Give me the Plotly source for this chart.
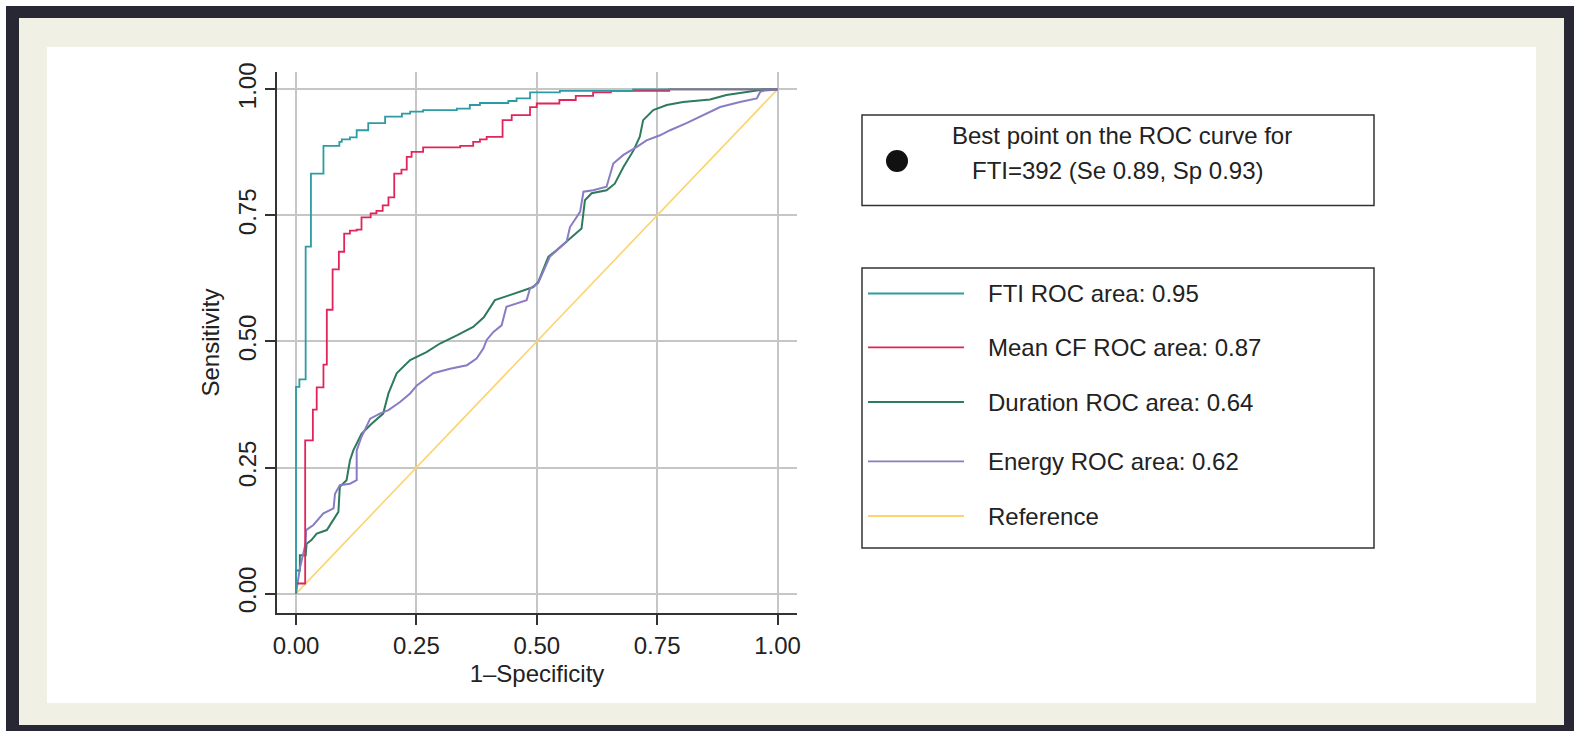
import plotly.graph_objects as go

# ---------------- data ----------------
fti_x = [0, 0, 0.007, 0.02, 0.031, 0.057, 0.09, 0.095, 0.112, 0.126, 0.15, 0.185, 0.22, 0.237,
         0.264, 0.334, 0.361, 0.382, 0.441, 0.458, 0.486, 0.548, 0.70, 1.0]
fti_y = [0, 0.41, 0.425, 0.688, 0.833, 0.888, 0.896, 0.901, 0.905, 0.919, 0.933, 0.946, 0.952, 0.956,
         0.959, 0.962, 0.969, 0.973, 0.977, 0.982, 0.994, 0.997, 1.0, 1.0]

cf_x = [0, 0, 0.019, 0.035, 0.043, 0.057, 0.064, 0.076, 0.089, 0.1, 0.112, 0.126, 0.136, 0.155, 0.167,
        0.18, 0.192, 0.204, 0.219, 0.23, 0.24, 0.264, 0.341, 0.368, 0.382, 0.396, 0.429, 0.448, 0.486,
        0.5, 0.547, 0.581, 0.617, 0.654, 0.775, 1.0]
cf_y = [0, 0.02, 0.304, 0.365, 0.409, 0.454, 0.563, 0.643, 0.678, 0.714, 0.72, 0.722, 0.746, 0.754, 0.759,
        0.77, 0.786, 0.833, 0.841, 0.866, 0.876, 0.885, 0.888, 0.896, 0.901, 0.906, 0.939, 0.949, 0.965,
        0.972, 0.979, 0.987, 0.994, 0.997, 1.0, 1.0]

dur_x = [0, 0, 0.008, 0.008, 0.02, 0.022, 0.032, 0.043, 0.064, 0.074, 0.088, 0.091, 0.105, 0.112, 0.119,
         0.136, 0.157, 0.181, 0.192, 0.209, 0.237, 0.271, 0.299, 0.334, 0.368, 0.39, 0.413, 0.444, 0.493,
         0.503, 0.524, 0.541, 0.566, 0.593, 0.6, 0.614, 0.645, 0.662, 0.68, 0.701, 0.714, 0.721, 0.742,
         0.77, 0.804, 0.86, 0.894, 0.936, 0.971, 1.0]
dur_y = [0, 0.046, 0.046, 0.076, 0.076, 0.099, 0.106, 0.119, 0.126, 0.142, 0.162, 0.212, 0.225, 0.264, 0.284,
         0.317, 0.337, 0.357, 0.397, 0.437, 0.463, 0.479, 0.496, 0.512, 0.529, 0.548, 0.582, 0.592, 0.608,
         0.618, 0.668, 0.681, 0.701, 0.724, 0.78, 0.794, 0.8, 0.813, 0.846, 0.879, 0.906, 0.939, 0.959,
         0.969, 0.975, 0.98, 0.989, 0.995, 1.0, 1.0]

en_x = [0, 0.008, 0.02, 0.021, 0.036, 0.057, 0.078, 0.081, 0.091, 0.112, 0.126, 0.126, 0.136, 0.154, 0.174,
        0.192, 0.216, 0.237, 0.251, 0.285, 0.32, 0.355, 0.375, 0.389, 0.396, 0.41, 0.427, 0.437, 0.479,
        0.486, 0.503, 0.527, 0.562, 0.569, 0.59, 0.597, 0.617, 0.645, 0.659, 0.68, 0.708, 0.728, 0.756,
        0.777, 0.811, 0.853, 0.881, 0.922, 0.957, 0.964, 0.974, 1.0]
en_y = [0, 0.05, 0.1, 0.126, 0.136, 0.159, 0.169, 0.198, 0.215, 0.218, 0.225, 0.284, 0.311, 0.347, 0.357,
        0.364, 0.38, 0.397, 0.413, 0.437, 0.446, 0.453, 0.466, 0.486, 0.503, 0.519, 0.532, 0.569, 0.582,
        0.605, 0.616, 0.668, 0.698, 0.727, 0.757, 0.797, 0.8, 0.807, 0.853, 0.87, 0.886, 0.899, 0.909,
        0.919, 0.933, 0.952, 0.965, 0.975, 0.982, 0.995, 0.998, 1.0]

ref_x = [0, 1]
ref_y = [0, 1]

tick_vals = [0, 0.25, 0.5, 0.75, 1.0]
tick_text = ["0.00", "0.25", "0.50", "0.75", "1.00"]

series_names = ["FTI ROC area: 0.95", "Mean CF ROC area: 0.87", "Duration ROC area: 0.64",
                "Energy ROC area: 0.62", "Reference"]
series_colors = ["#2c9ca2", "#e2245a", "#2d7b5c", "#8a7cc4", "#fcd46e"]
best_text = ["Best point on the ROC curve for", "FTI=392 (Se 0.89, Sp 0.93)"]

# ---------------- layout geometry (pixels) ----------------
W, H = 1574, 731
L, R, T, B = 277, 797, 72, 613          # plot area edges
PW, PH = R - L, B - T


def px(x):
    return (x - L) / PW


def py(y):
    return (B - y) / PH


FONT = "Liberation Sans, Arial, Helvetica, sans-serif"
FS = 24
TXT = "#222222"

fig = go.Figure()
curves = [(fti_x, fti_y, "hv", 1.8), (cf_x, cf_y, "hv", 1.8), (dur_x, dur_y, "linear", 2.0),
          (en_x, en_y, "linear", 2.0), (ref_x, ref_y, "linear", 1.6)]
order = [4, 2, 3, 1, 0]
for i in order:
    xs, ys, shape, w = curves[i]
    fig.add_trace(go.Scatter(x=xs, y=ys, mode="lines", name=series_names[i],
                             line=dict(color=series_colors[i], width=w, shape=shape),
                             showlegend=False, hoverinfo="skip"))

shapes = []
# frame: dark border, cream band, white panel
shapes.append(dict(type="rect", xref="paper", yref="paper", layer="below",
                   x0=px(6), x1=px(W + 5), y0=py(H + 5), y1=py(6),
                   fillcolor="#272833", line=dict(width=0)))
shapes.append(dict(type="rect", xref="paper", yref="paper", layer="below",
                   x0=px(19), x1=px(1564), y0=py(725), y1=py(18),
                   fillcolor="#f1f0e4", line=dict(width=0)))
shapes.append(dict(type="rect", xref="paper", yref="paper", layer="below",
                   x0=px(47), x1=px(1536), y0=py(703), y1=py(47),
                   fillcolor="#ffffff", line=dict(width=0)))

BOX_R = 1374
# legend box 1 (best point)
shapes.append(dict(type="rect", xref="paper", yref="paper", layer="above",
                   x0=px(862), x1=px(BOX_R), y0=py(205.5), y1=py(115),
                   fillcolor="rgba(0,0,0,0)", line=dict(color="#333333", width=1.5)))
cx, cy, rr = 897, 161, 11
shapes.append(dict(type="circle", xref="paper", yref="paper", layer="above",
                   x0=px(cx - rr), x1=px(cx + rr), y0=py(cy + rr), y1=py(cy - rr),
                   fillcolor="#111111", line=dict(color="#111111", width=0)))

# legend box 2 (series)
shapes.append(dict(type="rect", xref="paper", yref="paper", layer="above",
                   x0=px(862), x1=px(BOX_R), y0=py(548), y1=py(268),
                   fillcolor="rgba(0,0,0,0)", line=dict(color="#333333", width=1.5)))
leg_y = [293.5, 347.3, 402, 461.3, 516]
annotations = []
for i, ly in enumerate(leg_y):
    shapes.append(dict(type="line", xref="paper", yref="paper", layer="above",
                       x0=px(868), x1=px(964), y0=py(ly), y1=py(ly),
                       line=dict(color=series_colors[i], width=1.8)))
    annotations.append(dict(xref="paper", yref="paper", x=px(986), y=py(ly), text=series_names[i],
                            showarrow=False, xanchor="left", yanchor="middle",
                            font=dict(family=FONT, size=FS, color=TXT)))

annotations.append(dict(xref="paper", yref="paper", x=px(1122), y=py(135.5), text=best_text[0],
                        showarrow=False, xanchor="center", yanchor="middle",
                        font=dict(family=FONT, size=FS, color=TXT)))
annotations.append(dict(xref="paper", yref="paper", x=px(1118), y=py(170.5), text=best_text[1],
                        showarrow=False, xanchor="center", yanchor="middle",
                        font=dict(family=FONT, size=FS, color=TXT)))

axis_common = dict(
    tickmode="array", tickvals=tick_vals, ticktext=tick_text,
    showgrid=True, gridcolor="#c6c6c6", gridwidth=1.5, zeroline=False,
    showline=True, linecolor="#333333", linewidth=1.5, mirror=False,
    ticks="outside", ticklen=10, tickwidth=1.5, tickcolor="#333333",
    tickfont=dict(family=FONT, size=FS, color=TXT),
)

fig.update_layout(
    width=W, height=H,
    margin=dict(l=L, r=W - R, t=T, b=H - B, pad=0),
    paper_bgcolor="#ffffff", plot_bgcolor="rgba(0,0,0,0)",
    showlegend=False,
    xaxis=dict(range=[-0.0395, 1.0405], title=dict(text="1\u2013Specificity", standoff=8,
               font=dict(family=FONT, size=FS, color=TXT)), **axis_common),
    yaxis=dict(range=[-0.0385, 1.0345], tickangle=-90,
               title=dict(text="Sensitivity", standoff=7, font=dict(family=FONT, size=FS, color=TXT)),
               **axis_common),
    shapes=shapes, annotations=annotations,
)

fig.write_html("out.html")
